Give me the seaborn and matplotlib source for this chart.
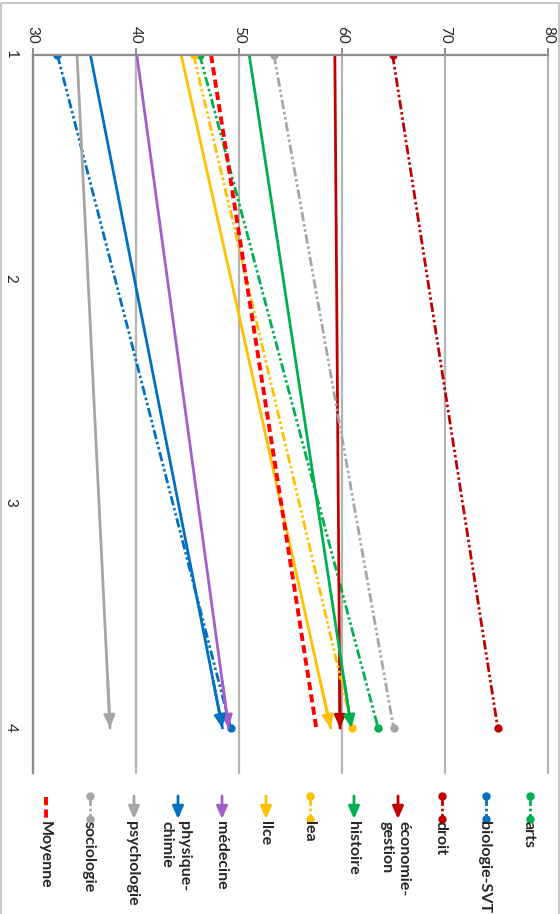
import numpy as np
import pandas as pd
import matplotlib
matplotlib.use("Agg")
import matplotlib.pyplot as plt
from matplotlib.patches import Rectangle
import seaborn as sns

filieres = ["arts", "biologie-SVT", "droit", "économie-gestion", "histoire", "lea", "llce",
            "médecine", "physique-chimie", "psychologie", "sociologie", "Moyenne"]
legend_labels = ["arts", "biologie-SVT", "droit", "économie-\ngestion", "histoire", "lea", "llce",
                 "médecine", "physique-\nchimie", "psychologie", "sociologie", "Moyenne"]
temps = [1, 4]
score_debut = [46.2, 32.4, 64.9, 59.3, 51.0, 45.6, 44.4, 40.1, 35.6, 34.3, 53.4, 47.3]
score_fin = [63.5, 49.2, 75.1, 59.8, 60.9, 61.0, 58.9, 49.0, 48.4, 37.5, 65.0, 57.5]
value_ticks = [30, 40, 50, 60, 70, 80]
temps_ticks = [1, 2, 3, 4]

# styles
couleurs = {
    "arts": "#00B050", "biologie-SVT": "#0070C0", "droit": "#C00000", "économie-gestion": "#C00000",
    "histoire": "#00B050", "lea": "#FFC000", "llce": "#FFC000", "médecine": "#A35FC9",
    "physique-chimie": "#0070C0", "psychologie": "#A6A6A6", "sociologie": "#A6A6A6", "Moyenne": "#FF0000"
}
fins = {
    "arts": "rond", "biologie-SVT": "rond", "droit": "rond", "économie-gestion": "fleche",
    "histoire": "fleche", "lea": "rond", "llce": "fleche", "médecine": "fleche",
    "physique-chimie": "fleche", "psychologie": "fleche", "sociologie": "rond", "Moyenne": None
}
DASHDOTDOT = (0, (3.4, 1.0, 0.9, 1.0, 0.9, 1.0))
DASHED = (0, (2.1, 1.1))
GRID = "#B4B4B4"
AXIS = "#8C8C8C"
TXT = "#262626"
ARROW = "-|>,head_length=0.75,head_width=0.33"

df = pd.DataFrame({
    "filiere": np.repeat(filieres, 2),
    "temps": temps * len(filieres),
    "score": np.column_stack([score_debut, score_fin]).ravel(),
})

sns.set_style("white")
plt.rcParams["font.family"] = ["Lato", "DejaVu Sans"]

fig = plt.figure(figsize=(5.6, 9.14), dpi=100)

# overlay in pixel units for the border and the legend
lax = fig.add_axes([0, 0, 1, 1])
lax.set_xlim(0, 560)
lax.set_ylim(914, 0)
lax.axis("off")
lax.add_patch(Rectangle((0.5, 3), 558, 930, fill=False, ec="#BFBFBF", lw=1.2))

ax = fig.add_axes([32.7 / 560, 1 - 773 / 914, (548.3 - 32.7) / 560, (773 - 55) / 914])
ax.patch.set_alpha(0)

for f in filieres:
    sub = df[df["filiere"] == f]
    c = couleurs[f]
    if fins[f] == "rond":
        ls, lw = DASHDOTDOT, 2.0
    elif fins[f] == "fleche":
        ls, lw = "-", 2.0
    else:
        ls, lw = DASHED, 2.8
    sns.lineplot(data=sub, x="score", y="temps", orient="y", color=c, linewidth=lw,
                 linestyle=ls, ax=ax, legend=False)
    s, e = sub["score"].values
    if fins[f] == "rond":
        ax.plot(sub["score"], sub["temps"], "o", color=c, ms=5, mec=c)
    elif fins[f] == "fleche":
        ax.annotate("", xy=(e, 4), xytext=(s + 0.93 * (e - s), 1 + 0.93 * 3),
                    arrowprops=dict(arrowstyle=ARROW, color=c, lw=2, mutation_scale=10,
                                    shrinkA=0, shrinkB=0))

ax.set_xlim(30, 80)
ax.set_ylim(4.2, 1)
ax.set_xticks(value_ticks)
ax.set_yticks(temps_ticks)
ax.set_xlabel("")
ax.set_ylabel("")
ax.xaxis.tick_top()
ax.xaxis.grid(True, color=GRID, lw=1.6)
for gl in ax.get_xgridlines():
    gl.set_clip_on(False)
ax.yaxis.grid(False)
for side in ["right", "bottom"]:
    ax.spines[side].set_visible(False)
for side in ["top", "left"]:
    ax.spines[side].set_color(AXIS)
    ax.spines[side].set_linewidth(1.6)
ax.tick_params(axis="x", direction="out", length=5, width=1.4, color=AXIS, pad=3,
               labelsize=11, labelcolor=TXT, labelrotation=-90)
ax.tick_params(axis="y", direction="out", length=6, width=1.4, color=AXIS, pad=5,
               labelsize=11, labelcolor=TXT, labelrotation=-90)

# legend (rotated, like the rest of the chart)
for i, f in enumerate(filieres):
    x = 530 - 44.0 * i
    c = couleurs[f]
    if fins[f] == "rond":
        lax.plot([x, x], [796, 819], color=c, lw=2, linestyle=DASHDOTDOT,
                 marker="o", ms=5, mec=c)
    elif fins[f] == "fleche":
        lax.annotate("", xy=(x, 819), xytext=(x, 796),
                     arrowprops=dict(arrowstyle=ARROW, color=c, lw=2, mutation_scale=10,
                                     shrinkA=0, shrinkB=0))
    else:
        lax.plot([x, x], [797, 820], color=c, lw=2.8, linestyle=DASHED)
    lax.text(x, 821, legend_labels[i], rotation=-90, rotation_mode="anchor",
             ha="left", va="center_baseline", fontsize=11.5, fontweight="bold",
             color=TXT, linespacing=1.3)

fig.savefig("out.png", dpi=100)
